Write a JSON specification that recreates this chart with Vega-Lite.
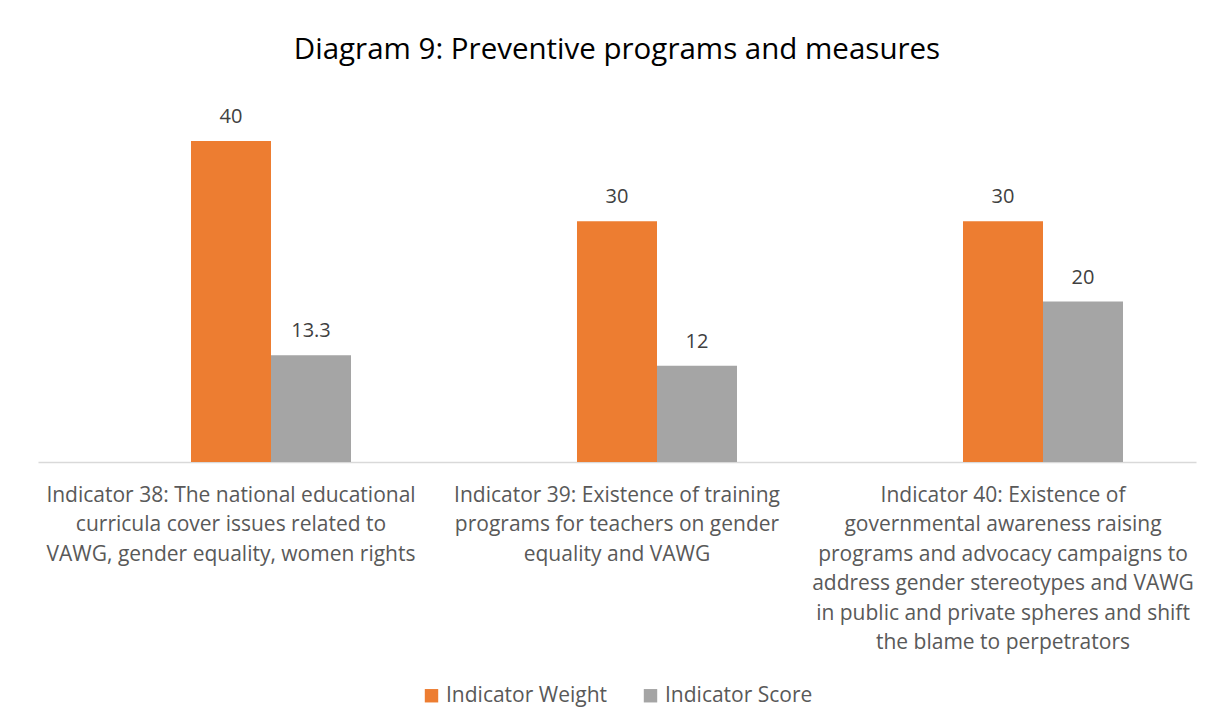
{
  "$schema": "https://vega.github.io/schema/vega-lite/v6.json",
  "autosize": {"type": "none"},
  "width": 1158,
  "height": 361,
  "padding": {"left": 38, "top": 101, "right": 21, "bottom": 262},
  "background": "#ffffff",
  "config": {"view": {"stroke": null}},
  "title": {
    "text": "Diagram 9: Preventive programs and measures",
    "font": "Open Sans",
    "fontSize": 29.5,
    "fontWeight": "normal",
    "color": "#000000",
    "anchor": "middle",
    "offset": 36
  },
  "data": {
    "values": [
      {"indicator": "Indicator 38: The national educational|curricula cover issues related to|VAWG, gender equality, women rights", "series": "Indicator Weight", "value": 40},
      {"indicator": "Indicator 38: The national educational|curricula cover issues related to|VAWG, gender equality, women rights", "series": "Indicator Score", "value": 13.3},
      {"indicator": "Indicator 39: Existence of training|programs for teachers on gender|equality and VAWG", "series": "Indicator Weight", "value": 30},
      {"indicator": "Indicator 39: Existence of training|programs for teachers on gender|equality and VAWG", "series": "Indicator Score", "value": 12},
      {"indicator": "Indicator 40:  Existence of|governmental awareness raising|programs and advocacy campaigns to|address gender stereotypes and VAWG|in public and private spheres and shift|the blame to perpetrators", "series": "Indicator Weight", "value": 30},
      {"indicator": "Indicator 40:  Existence of|governmental awareness raising|programs and advocacy campaigns to|address gender stereotypes and VAWG|in public and private spheres and shift|the blame to perpetrators", "series": "Indicator Score", "value": 20}
    ]
  },
  "encoding": {
    "x": {
      "field": "indicator",
      "type": "nominal",
      "sort": null,
      "scale": {"paddingInner": 0.3782, "paddingOuter": 0.1891},
      "axis": {
        "title": null,
        "labelAngle": 0,
        "labelExpr": "split(datum.label, '|')",
        "labelFont": "Open Sans",
        "labelFontSize": 21,
        "labelColor": "#595959",
        "labelLineHeight": 29.5,
        "labelBaseline": "top",
        "labelPadding": 22,
        "labelLimit": 0,
        "labelBound": false,
        "labelOverlap": false,
        "ticks": false,
        "domainColor": "#d9d9d9",
        "domainWidth": 1.5
      }
    },
    "xOffset": {
      "field": "series",
      "type": "nominal",
      "scale": {"domain": ["(none)", "Indicator Weight", "Indicator Score"], "paddingInner": 0, "paddingOuter": 0}
    },
    "y": {
      "field": "value",
      "type": "quantitative",
      "scale": {"domain": [0, 45], "nice": false},
      "axis": null
    },
    "color": {
      "field": "series",
      "type": "nominal",
      "scale": {"domain": ["Indicator Weight", "Indicator Score"], "range": ["#ED7D31", "#A5A5A5"]},
      "legend": {
        "title": null,
        "orient": "none",
        "direction": "horizontal",
        "legendX": 383,
        "legendY": 584,
        "symbolType": "square",
        "symbolSize": 180,
        "symbolStrokeWidth": 0,
        "labelFont": "Open Sans",
        "labelFontSize": 21,
        "labelColor": "#595959",
        "labelOffset": 4,
        "labelLimit": 400,
        "columnPadding": 32
      }
    }
  },
  "layer": [
    {"mark": {"type": "bar"}},
    {
      "mark": {"type": "text", "baseline": "bottom", "dy": -14, "font": "Open Sans", "fontSize": 20, "color": "#404040"},
      "encoding": {
        "text": {"field": "value", "type": "quantitative"},
        "color": {"value": "#404040"}
      }
    }
  ]
}
